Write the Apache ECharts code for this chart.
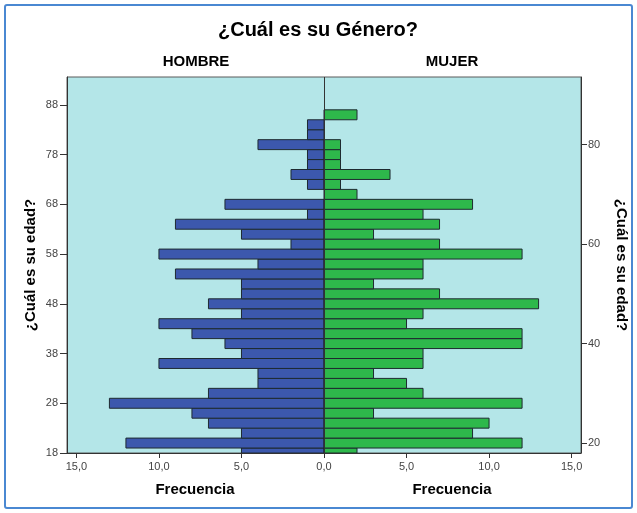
<!DOCTYPE html>
<html>
<head>
<meta charset="utf-8">
<script src="https://cdn.jsdelivr.net/npm/echarts@6/dist/echarts.min.js"></script>
<style>
html,body{margin:0;padding:0;background:#fff;}
#chart{width:637px;height:513px;}
</style>
</head>
<body>
<div id="chart"></div>
<script>
// Age bins (centre of 2-year bins), bottom to top
var ages = [18,20,22,24,26,28,30,32,34,36,38,40,42,44,46,48,50,52,54,56,58,60,62,64,66,68,70,72,74,76,78,80,82,84,86];
var hombre = [5,12,5,7,8,13,7,4,4,10,5,6,8,10,5,7,5,5,9,4,10,2,5,9,1,6,0,1,2,1,1,4,1,1,0];
var mujer  = [2,12,9,10,3,12,6,5,3,6,6,12,12,5,6,13,7,3,6,6,12,7,3,7,6,9,2,1,4,1,1,1,0,0,2];
var leftTicks = [18,28,38,48,58,68,78,88];
var rightTicks = [20,40,60,80];
var xTicks = [-15,-10,-5,0,5,10,15];
var binWidth = 2;

var FONT = "'Liberation Sans', Arial, sans-serif";

function makeRender(sign, fill) {
  return function (params, api) {
    var age = api.value(1), val = api.value(0);
    if (!val) return;
    var p1 = api.coord([0, age - binWidth / 2]);
    var p2 = api.coord([sign * val, age + binWidth / 2]);
    var rect = {
      x: Math.min(p1[0], p2[0]), y: Math.min(p1[1], p2[1]),
      width: Math.abs(p2[0] - p1[0]), height: Math.abs(p2[1] - p1[1])
    };
    var cs = params.coordSys;
    var clipped = echarts.graphic.clipRectByRect(rect, {x: cs.x, y: cs.y, width: cs.width, height: cs.height});
    if (!clipped) return;
    return {type: 'rect', shape: clipped, style: {fill: fill, stroke: '#1e2a30', lineWidth: 1}};
  };
}

var chart = echarts.init(document.getElementById('chart'), null, {renderer: 'canvas'});
var option = {
  backgroundColor: '#ffffff',
  animation: false,
  grid: {left: 67, right: 56, top: 77, bottom: 60, show: true, backgroundColor: '#b4e6e8', borderColor: '#5a5a5a', borderWidth: 1},
  xAxis: {
    type: 'value', min: -15.57, max: 15.57,
    splitLine: {show: false},
    axisLine: {show: true, onZero: false, lineStyle: {color: '#333'}},
    axisTick: {show: true, length: 5, lineStyle: {color: '#333'}, customValues: xTicks},
    axisLabel: {customValues: xTicks, color: '#444', fontSize: 11, fontFamily: FONT, margin: 8,
      formatter: function (v) { return Math.abs(v).toFixed(1).replace('.', ','); }}
  },
  yAxis: [{
    type: 'value', min: 18, max: 93.6, position: 'left',
    splitLine: {show: false},
    axisLine: {show: true, onZero: false, lineStyle: {color: '#333'}},
    axisTick: {show: true, length: 7, lineStyle: {color: '#333'}, customValues: leftTicks},
    axisLabel: {customValues: leftTicks, color: '#444', fontSize: 11, fontFamily: FONT, margin: 9}
  }, {
    type: 'value', min: 18, max: 93.6, position: 'right',
    splitLine: {show: false},
    axisLine: {show: true, onZero: false, lineStyle: {color: '#333'}},
    axisTick: {show: true, length: 6, lineStyle: {color: '#333'}, customValues: rightTicks},
    axisLabel: {customValues: rightTicks, color: '#444', fontSize: 11, fontFamily: FONT, margin: 7}
  }],
  series: [{
    type: 'custom', name: 'HOMBRE', yAxisIndex: 0,
    renderItem: makeRender(-1, '#3c58ad'),
    encode: {x: 0, y: 1},
    data: ages.map(function (a, i) { return [hombre[i], a]; }),
    clip: true,
    markLine: {silent: true, symbol: 'none', label: {show: false},
      lineStyle: {color: '#333', width: 1, type: 'solid'}, data: [{xAxis: 0}]},
    z: 2
  }, {
    type: 'custom', name: 'MUJER', yAxisIndex: 0,
    renderItem: makeRender(1, '#2eb84b'),
    encode: {x: 0, y: 1},
    data: ages.map(function (a, i) { return [mujer[i], a]; }),
    clip: true,
    z: 2
  }],
  graphic: [
    {type: 'rect', shape: {x: 5, y: 5, width: 627, height: 503, r: 2}, style: {fill: 'none', stroke: '#4a88d2', lineWidth: 2}, z: 100},
    {type: 'text', x: 318, y: 30, style: {text: '¿Cuál es su Género?', font: 'bold 20px ' + FONT, fill: '#000', align: 'center', verticalAlign: 'middle'}},
    {type: 'text', x: 196, y: 62, style: {text: 'HOMBRE', font: 'bold 15px ' + FONT, fill: '#000', align: 'center', verticalAlign: 'middle'}},
    {type: 'text', x: 452, y: 62, style: {text: 'MUJER', font: 'bold 15px ' + FONT, fill: '#000', align: 'center', verticalAlign: 'middle'}},
    {type: 'text', x: 195, y: 490, style: {text: 'Frecuencia', font: 'bold 15px ' + FONT, fill: '#000', align: 'center', verticalAlign: 'middle'}},
    {type: 'text', x: 452, y: 490, style: {text: 'Frecuencia', font: 'bold 15px ' + FONT, fill: '#000', align: 'center', verticalAlign: 'middle'}},
    {type: 'text', x: 31, y: 265, rotation: Math.PI / 2, style: {text: '¿Cuál es su edad?', font: 'bold 15px ' + FONT, fill: '#000', align: 'center', verticalAlign: 'middle'}},
    {type: 'text', x: 621, y: 265, rotation: -Math.PI / 2, style: {text: '¿Cuál es su edad?', font: 'bold 15px ' + FONT, fill: '#000', align: 'center', verticalAlign: 'middle'}}
  ]
};
chart.setOption(option);
</script>
</body>
</html>
